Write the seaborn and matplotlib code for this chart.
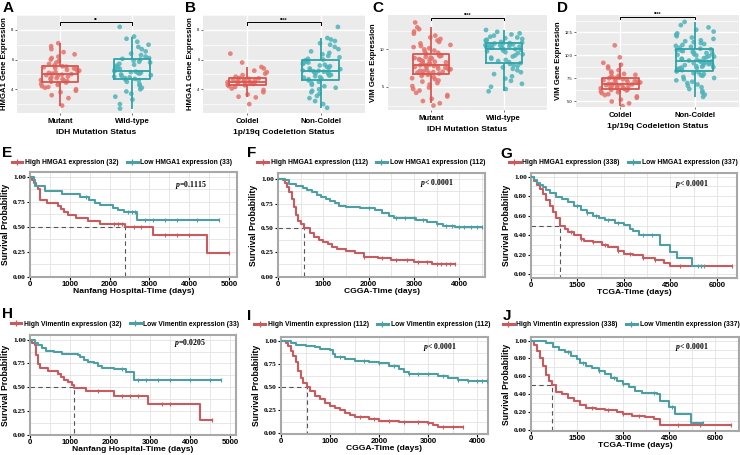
import numpy as np
import pandas as pd
import matplotlib
matplotlib.use("Agg")
import matplotlib.pyplot as plt
from matplotlib.lines import Line2D
from matplotlib.ticker import MultipleLocator, FormatStrFormatter
import seaborn as sns

# ---------------- box plot data (expression values) ----------------
groups_idh = ["Mutant", "Wild-type"]
groups_codel = ["Coldel", "Non-Coldel"]

hmga1_idh_mut = [2.9, 3.4, 3.6, 3.8, 3.9, 4.0, 4.1, 4.15, 4.2, 4.3, 4.35, 4.4,
                 4.45, 4.5, 4.55, 4.6, 4.62, 4.68, 4.7, 4.75, 4.8, 4.85, 4.9, 4.95, 4.98,
                 5.02, 5.05, 5.1, 5.15, 5.2, 5.25, 5.3, 5.35, 5.4, 5.42, 5.48, 5.52, 5.55,
                 5.6, 5.7, 5.8, 5.9, 6.0, 6.1, 6.2, 6.35, 6.5, 6.7, 6.9, 7.1]
hmga1_idh_wt = [2.7, 3.0, 3.3, 3.5, 3.7, 3.85, 4.0, 4.1, 4.25, 4.35, 4.5, 4.6,
                4.65, 4.7, 4.75, 4.8, 4.85, 4.9, 4.95, 5.0, 5.05, 5.1, 5.12, 5.15, 5.18,
                5.22, 5.3, 5.38, 5.45, 5.5, 5.6, 5.65, 5.72, 5.8, 5.85, 5.92, 6.0, 6.05,
                6.1, 6.2, 6.3, 6.4, 6.55, 6.7, 6.85, 7.0, 7.2, 7.4, 7.55, 8.2]
hmga1_codel = [3.0, 3.45, 3.5, 3.65, 3.8, 3.95, 4.05, 4.15, 4.22,
               4.27, 4.3, 4.33, 4.36, 4.4, 4.42, 4.45, 4.47, 4.49,
               4.51, 4.55, 4.58, 4.6, 4.63, 4.66, 4.7, 4.73, 4.76,
               4.85, 4.95, 5.05, 5.15, 5.25, 5.4, 5.5, 5.8, 6.4]
hmga1_noncodel = [2.75, 3.0, 3.2, 3.4, 3.55, 3.7, 3.8, 3.9, 4.0, 4.1, 4.2, 4.3, 4.4, 4.5, 4.6,
                  4.67, 4.72, 4.78, 4.82, 4.88, 4.92, 4.97, 5.0, 5.05, 5.08, 5.12, 5.15, 5.18, 5.21, 5.24,
                  5.27, 5.3, 5.35, 5.4, 5.45, 5.5, 5.55, 5.6, 5.65, 5.7, 5.75, 5.8, 5.85, 5.9, 5.94,
                  6.0, 6.05, 6.15, 6.25, 6.35, 6.45, 6.55, 6.7, 6.85, 7.0, 7.1, 7.25, 7.35, 7.45, 8.2]
vim_idh_mut = [2.5, 2.8, 3.1, 3.4, 3.7, 3.9, 4.2, 4.5, 4.7, 4.9, 5.1, 5.3, 5.5, 5.7, 5.85, 6.0, 6.15, 6.3, 6.45, 6.6,
               6.72, 6.78, 6.85, 6.9, 6.97, 7.02, 7.1, 7.15, 7.22, 7.28, 7.35, 7.42, 7.48, 7.55, 7.6, 7.67, 7.72, 7.78, 7.83, 7.88,
               7.93, 8.0, 8.07, 8.13, 8.2, 8.28, 8.35, 8.42, 8.5, 8.57, 8.63, 8.7, 8.78, 8.85, 8.92, 9.0, 9.08, 9.15, 9.22, 9.3,
               9.4, 9.55, 9.7, 9.85, 10.0, 10.15, 10.3, 10.45, 10.6, 10.8, 11.0, 11.2, 11.4, 11.6, 11.85, 12.1, 12.4, 12.7, 12.95, 13.6]
vim_idh_wt = [4.4, 4.7, 5.0, 5.4, 5.8, 6.1, 6.4, 6.7, 6.95, 7.2, 7.4, 7.6, 7.75, 7.9, 8.05,
              8.15, 8.3, 8.45, 8.6, 8.75, 8.9, 9.05, 9.2, 9.35, 9.5, 9.62, 9.75, 9.85, 9.95, 10.05,
              10.12, 10.18, 10.22, 10.27, 10.32, 10.37, 10.42, 10.47, 10.52, 10.57, 10.62, 10.67, 10.71, 10.75, 10.79,
              10.85, 10.92, 11.0, 11.1, 11.2, 11.3, 11.4, 11.5, 11.6, 11.7, 11.85, 12.0, 12.15, 12.35, 12.6]
vim_codel = [4.5, 4.8, 5.0, 5.2, 5.4, 5.55, 5.7, 5.8, 5.9, 6.0, 6.08, 6.15, 6.2, 6.26,
             6.32, 6.38, 6.43, 6.48, 6.53, 6.58, 6.63, 6.68, 6.73, 6.78, 6.82, 6.86, 6.9, 6.93,
             6.97, 7.02, 7.07, 7.12, 7.17, 7.22, 7.27, 7.32, 7.37, 7.42, 7.47, 7.52, 7.56, 7.59,
             7.65, 7.72, 7.8, 7.9, 8.0, 8.1, 8.25, 8.4, 8.6, 8.8, 9.0, 9.2, 9.8, 11.1]
vim_noncodel = [5.5, 5.75, 5.95, 6.15, 6.35, 6.55, 6.7, 6.85, 7.0, 7.15, 7.3, 7.42, 7.55, 7.67, 7.78, 7.88, 7.98, 8.08, 8.17, 8.26,
                8.34, 8.4, 8.46, 8.52, 8.58, 8.63, 8.68, 8.73, 8.78, 8.84, 8.9, 8.95, 9.0, 9.06, 9.12, 9.17, 9.22, 9.27, 9.31, 9.34,
                9.38, 9.45, 9.52, 9.58, 9.65, 9.72, 9.8, 9.87, 9.94, 10.0, 10.07, 10.14, 10.2, 10.27, 10.34, 10.4, 10.47, 10.54, 10.6, 10.67,
                10.75, 10.85, 10.95, 11.05, 11.15, 11.25, 11.35, 11.45, 11.55, 11.65, 11.8, 11.95, 12.1, 12.25, 12.4, 12.6, 12.8, 13.05, 13.3, 13.65]

# ---------------- Kaplan-Meier step curves (time, survival) ----------------
e_high_t = [0, 40, 90, 150, 200, 240, 260, 420, 700, 780, 860, 950, 1150, 1450, 1750, 2390, 3080, 4450, 5000]
e_high_s = [1.0, 0.97, 0.94, 0.91, 0.88, 0.80, 0.77, 0.74, 0.71, 0.68, 0.65, 0.62, 0.59, 0.56, 0.53, 0.50, 0.42, 0.24, 0.24]
e_low_t = [0, 100, 130, 380, 800, 1260, 1470, 1630, 1760, 2090, 2220, 2360, 2680, 4750]
e_low_s = [1.0, 0.97, 0.91, 0.86, 0.83, 0.80, 0.77, 0.74, 0.72, 0.69, 0.67, 0.65, 0.57, 0.57]
e_high_cens = [2100, 2200, 2300, 2600, 2800, 3400, 3700, 4000, 5000]
e_low_cens = [1400, 2450, 2550, 2650, 2900, 3100, 3400, 3700, 4200, 4750]

f_high_t = [0, 100, 150, 200, 250, 300, 350, 400, 450, 500, 580, 700, 800, 900, 1000, 1100, 1200, 1300,
            1500, 1700, 1900, 2200, 2500, 3000, 3400, 3900]
f_high_s = [1.0, 0.99, 0.96, 0.92, 0.87, 0.80, 0.72, 0.63, 0.57, 0.54, 0.50, 0.45, 0.41, 0.38, 0.36, 0.33,
            0.30, 0.28, 0.26, 0.24, 0.20, 0.19, 0.17, 0.15, 0.13, 0.13]
f_low_t = [0, 150, 250, 400, 550, 650, 750, 850, 950, 1050, 1150, 1250, 1350, 1500, 1800, 2150, 2300,
           2450, 2550, 3050, 3300, 3500, 3650, 3900, 4500]
f_low_s = [1.0, 0.99, 0.95, 0.93, 0.91, 0.89, 0.87, 0.84, 0.82, 0.80, 0.78, 0.76, 0.73, 0.72, 0.70, 0.68,
           0.65, 0.62, 0.60, 0.58, 0.56, 0.54, 0.52, 0.51, 0.51]
f_high_cens = [1900, 2300, 2600, 2850, 3100, 3300, 3500, 3600, 3700, 3800, 3900]
f_low_cens = [2000, 2600, 2800, 3000, 3200, 3500, 3700, 3850, 4000, 4100, 4250, 4400, 4500]

g_high_t = [0, 100, 200, 300, 400, 500, 600, 700, 800, 950, 1000, 1100, 1200, 1400, 1600, 1700, 2000,
            2300, 2500, 2800, 3000, 3300, 3600, 4000, 4300, 4500, 6500]
g_high_s = [1.0, 0.96, 0.92, 0.87, 0.82, 0.76, 0.70, 0.64, 0.58, 0.50, 0.49, 0.46, 0.43, 0.40, 0.36, 0.34,
            0.33, 0.30, 0.28, 0.24, 0.21, 0.20, 0.17, 0.15, 0.12, 0.08, 0.08]
g_low_t = [0, 100, 200, 300, 400, 500, 600, 800, 1000, 1200, 1400, 1600, 1800, 2000, 2200, 2400, 2700,
           3000, 3200, 3300, 3500, 4150, 4500, 4700, 5200, 5600]
g_low_s = [1.0, 0.97, 0.94, 0.92, 0.89, 0.86, 0.83, 0.79, 0.77, 0.74, 0.70, 0.66, 0.63, 0.60, 0.58, 0.56,
           0.53, 0.51, 0.46, 0.44, 0.40, 0.30, 0.23, 0.17, 0.08, 0.08]
g_high_cens = [1300, 1600, 2000, 2400, 2800, 3200, 3600, 4000, 4800, 5500, 6500]
g_low_cens = [1500, 1800, 2100, 2500, 2800, 3600, 3900, 5400, 5600]

h_high_t = [0, 60, 120, 160, 200, 260, 450, 700, 780, 850, 950, 1050, 1100, 1400, 2100, 2950, 4250, 4550]
h_high_s = [1.0, 0.97, 0.94, 0.84, 0.74, 0.70, 0.67, 0.64, 0.61, 0.58, 0.55, 0.52, 0.49, 0.46, 0.41, 0.32, 0.15, 0.15]
h_low_t = [0, 120, 200, 300, 400, 600, 800, 1200, 1250, 1350, 1450, 1600, 1700, 1800, 2100, 2400, 2600, 4780]
h_low_s = [1.0, 0.97, 0.94, 0.91, 0.88, 0.87, 0.85, 0.84, 0.82, 0.79, 0.77, 0.75, 0.72, 0.70, 0.69, 0.66, 0.57, 0.57]
h_high_cens = [1700, 2300, 2500, 2700, 3300, 3500, 4550]
h_low_cens = [2300, 2700, 2900, 3200, 3500, 4000, 4500, 4780]

i_high_t = [0, 100, 150, 200, 250, 300, 350, 400, 450, 530, 600, 700, 800, 900, 1000, 1100, 1200, 1300,
            1400, 1500, 1800, 2000, 2400, 3000, 3100, 3200, 3700]
i_high_s = [1.0, 0.98, 0.95, 0.90, 0.84, 0.77, 0.68, 0.60, 0.55, 0.50, 0.46, 0.40, 0.37, 0.33, 0.30, 0.28,
            0.25, 0.22, 0.20, 0.18, 0.15, 0.13, 0.12, 0.11, 0.09, 0.07, 0.07]
i_low_t = [0, 200, 300, 500, 700, 800, 1000, 1050, 1100, 1300, 1500, 1800, 2000, 2200, 2400, 2500, 2600,
           3000, 3200, 3400, 3600, 3800, 4216]
i_low_s = [1.0, 0.98, 0.96, 0.95, 0.94, 0.92, 0.91, 0.86, 0.83, 0.81, 0.79, 0.78, 0.76, 0.73, 0.70, 0.67,
           0.65, 0.64, 0.62, 0.60, 0.58, 0.57, 0.57]
i_high_cens = [1600, 1900, 2200, 2500, 2800, 3000, 3300, 3500, 3700]
i_low_cens = [1200, 1700, 2000, 2300, 2600, 2800, 3000, 3300, 3600, 3800, 4000, 4100, 4200]

j_high_t = [0, 100, 200, 300, 400, 500, 600, 680, 800, 1000, 1200, 1400, 1600, 1800, 2100, 2400, 2800,
            3000, 3300, 3700, 4000, 4200, 6500]
j_high_s = [1.0, 0.95, 0.88, 0.80, 0.72, 0.62, 0.55, 0.50, 0.43, 0.40, 0.36, 0.32, 0.28, 0.25, 0.24, 0.22,
            0.20, 0.18, 0.16, 0.15, 0.12, 0.06, 0.06]
j_low_t = [0, 300, 500, 700, 900, 1100, 1300, 1500, 1600, 1800, 2000, 2200, 2400, 2600, 2800, 3000, 3200,
           3400, 3600, 4100, 4200, 4500, 4700, 5200, 5600]
j_low_s = [1.0, 0.99, 0.97, 0.93, 0.90, 0.87, 0.83, 0.79, 0.75, 0.72, 0.69, 0.66, 0.63, 0.58, 0.55, 0.52,
           0.48, 0.44, 0.41, 0.40, 0.33, 0.26, 0.18, 0.08, 0.08]
j_high_cens = [2000, 2500, 3000, 3500, 4800, 5500, 6500]
j_low_cens = [1200, 1700, 2200, 2700, 3000, 4000, 4600, 5600]

# ---------------- styling ----------------
RED_PT, RED_BOX = "#E6716A", "#D8564F"
TEAL_PT, TEAL_BOX = "#4DB4B9", "#2FA3A9"
KM_RED, KM_TEAL = "#C95A5D", "#4E9FA4"
SANS = ["Liberation Sans", "DejaVu Sans"]
SERIF = ["Liberation Serif", "DejaVu Serif"]

plt.rcParams["font.family"] = SANS
plt.rcParams["mathtext.fontset"] = "custom"
plt.rcParams["mathtext.it"] = "Liberation Serif:italic:bold"
plt.rcParams["mathtext.rm"] = "Liberation Serif:bold"

W, H = 740, 455
fig = plt.figure(figsize=(W / 100, H / 100), dpi=100)


def rect(x0, y0, x1, y1):
    return [x0 / W, 1 - y1 / H, (x1 - x0) / W, (y1 - y0) / H]


def letter(x, y, s):
    fig.text(x / W, 1 - y / H, s, fontsize=11, fontweight="bold", va="baseline", ha="left")


def box_panel(r, groups, a, b, ylabel, xlabel, ylim, ymajor, fmt, bracket, stars):
    ax = fig.add_axes(rect(*r))
    df = pd.DataFrame({"group": [groups[0]] * len(a) + [groups[1]] * len(b), "value": a + b})
    np.random.seed(3)
    sns.stripplot(data=df, x="group", y="value", hue="group", palette=[RED_PT, TEAL_PT],
                  jitter=0.28, size=3.4, alpha=0.85, linewidth=0, legend=False, ax=ax, zorder=2)
    sns.boxplot(data=df, x="group", y="value", hue="group", palette=[RED_BOX, TEAL_BOX],
                fill=False, width=0.5, showfliers=False, showcaps=False, linewidth=1.3,
                legend=False, ax=ax, zorder=3)
    ax.set_facecolor("#EBEBEB")
    for s in ax.spines.values():
        s.set_visible(False)
    ax.set_xlim(-0.6, 1.6)
    ax.set_ylim(*ylim)
    ax.yaxis.set_major_locator(MultipleLocator(ymajor))
    ax.yaxis.set_minor_locator(MultipleLocator(ymajor / 2))
    ax.yaxis.set_major_formatter(FormatStrFormatter(fmt))
    ax.set_axisbelow(True)
    ax.grid(True, which="major", color="white", lw=1.0)
    ax.grid(True, which="minor", axis="y", color="white", lw=0.5)
    ax.tick_params(axis="y", which="major", labelsize=3, length=1.5, width=0.5, color="#333333", pad=1)
    ax.tick_params(axis="y", which="minor", length=0)
    ax.tick_params(axis="x", labelsize=5.6, length=1.5, width=0.5, color="#333333", pad=2)
    for t in ax.get_xticklabels():
        t.set_fontweight("bold")
    ax.set_xlabel(xlabel, fontsize=6, fontweight="bold", labelpad=3)
    ax.set_ylabel(ylabel, fontsize=5.6, fontweight="bold", labelpad=2)
    y0, d = bracket
    ax.plot([0, 0, 1, 1], [y0 - d, y0, y0, y0 - d], color="black", lw=0.7, clip_on=False, zorder=4)
    ax.text(0.5, y0, stars, ha="center", va="bottom", fontsize=3.5, fontweight="bold")
    return ax


def step_value(times, surv, t):
    idx = np.searchsorted(np.asarray(times), np.asarray(t), side="right") - 1
    return np.asarray(surv)[idx]


def km_panel(r, curves, labels, xlim, xmajor, ylim, ymajor, xlabel, ptext, pxy, median, legend_xy):
    ax = fig.add_axes(rect(*r))
    for (t, s, cens, col) in curves:
        sns.lineplot(x=t, y=s, drawstyle="steps-post", color=col, lw=1.5, estimator=None,
                     sort=False, ax=ax, zorder=3)
        ax.plot(cens, step_value(t, s, cens), ls="none", marker="|", ms=3.2, mew=0.8,
                color=col, zorder=3)
    ax.plot([xlim[0], median, median], [0.5, 0.5, ylim[0]], color="#555555", lw=0.8,
            ls=(0, (4, 3)), zorder=2)
    ax.set_xlim(*xlim)
    ax.set_ylim(*ylim)
    ax.xaxis.set_major_locator(MultipleLocator(xmajor))
    ax.xaxis.set_minor_locator(MultipleLocator(xmajor / 2))
    ax.yaxis.set_major_locator(MultipleLocator(ymajor))
    ax.yaxis.set_minor_locator(MultipleLocator(ymajor / 2))
    ax.yaxis.set_major_formatter(FormatStrFormatter("%.2f"))
    ax.set_axisbelow(True)
    ax.grid(True, which="both", color="#E3E3E3", lw=0.6)
    for sp in ax.spines.values():
        sp.set_color("#A8A8A8")
        sp.set_linewidth(1.5)
    ax.tick_params(which="minor", length=0)
    ax.tick_params(axis="both", which="major", length=2, width=0.8, color="black", pad=1)
    ax.tick_params(axis="x", labelsize=5.6)
    ax.tick_params(axis="y", labelsize=5.3)
    for tl in ax.get_xticklabels():
        tl.set_fontweight("bold")
    for tl in ax.get_yticklabels():
        tl.set_family(SERIF)
        tl.set_fontweight("bold")
    ax.set_xlabel(xlabel, fontsize=6.1, fontweight="bold", labelpad=0)
    ax.set_ylabel("Survival Probability", fontsize=6.2, fontweight="bold", labelpad=2)
    ax.text(pxy[0], pxy[1], ptext, transform=ax.transAxes, fontsize=5.6, family=SERIF,
            fontweight="bold", ha="left", va="center")
    handles = [Line2D([0], [0], color=c[3], lw=2.2, marker="+", ms=4, mew=0.9) for c in curves]
    fig.legend(handles, labels, loc="center", bbox_to_anchor=(legend_xy[0] / W, 1 - legend_xy[1] / H),
               ncol=2, frameon=False, handlelength=1.6, handletextpad=0.4, columnspacing=1.2,
               prop={"size": 4.9, "weight": "bold", "family": SANS}, borderaxespad=0, borderpad=0)
    return ax


# ---------------- top row: box plots ----------------
box_panel((17, 15, 175, 113), groups_idh, hmga1_idh_mut, hmga1_idh_wt,
          "HMGA1 Gene Expression", "IDH Mutation Status", (2.4, 9.0), 2, "%d", (8.5, 0.15), "**")
box_panel((203, 15, 365, 113), groups_codel, hmga1_codel, hmga1_noncodel,
          "HMGA1 Gene Expression", "1p/19q Codeletion Status", (2.4, 9.0), 2, "%d", (8.5, 0.15), "****")
box_panel((388, 15, 547, 110), groups_idh, vim_idh_mut, vim_idh_wt,
          "VIM Gene Expression", "IDH Mutation Status", (1.9, 14.6), 5, "%d", (14.2, 0.3), "****")
box_panel((576, 15, 739, 107), groups_codel, vim_codel, vim_noncodel,
          "VIM Gene Expression", "1p/19q Codeletion Status", (4.4, 14.4), 2.5, "%.1f", (14.2, 0.25), "****")
letter(3, 12, "A")
letter(185, 12, "B")
letter(372, 12, "C")
letter(557, 12, "D")

# ---------------- KM curves ----------------
km_panel((30, 172, 237, 277),
         [(e_high_t, e_high_s, e_high_cens, KM_RED), (e_low_t, e_low_s, e_low_cens, KM_TEAL)],
         ["High HMGA1 expression (32)", "Low HMGA1 expression (33)"],
         (0, 5200), 1000, (-0.005, 1.05), 0.25, "Nanfang Hospital-Time (days)",
         "$p$=0.1115", (0.70, 0.88), 2390, (122, 163))
km_panel((278, 173, 485, 277),
         [(f_high_t, f_high_s, f_high_cens, KM_RED), (f_low_t, f_low_s, f_low_cens, KM_TEAL)],
         ["High HMGA1 expression (112)", "Low HMGA1 expression (112)"],
         (0, 4570), 1000, (-0.005, 1.065), 0.25, "CGGA-Time (days)",
         "$p$< 0.0001", (0.685, 0.90), 580, (371, 163))
km_panel((531, 173, 737, 278),
         [(g_high_t, g_high_s, g_high_cens, KM_RED), (g_low_t, g_low_s, g_low_cens, KM_TEAL)],
         ["High HMGA1 expression (338)", "Low HMGA1 expression (337)"],
         (0, 6650), 1500, (-0.038, 1.038), 0.2, "TCGA-Time (days)",
         "$p$< 0.0001", (0.70, 0.90), 950, (623, 163))
km_panel((30, 335, 236, 435),
         [(h_high_t, h_high_s, h_high_cens, KM_RED), (h_low_t, h_low_s, h_low_cens, KM_TEAL)],
         ["High Vimentin expression (32)", "Low Vimentin expression (33)"],
         (0, 5150), 1000, (-0.005, 1.05), 0.25, "Nanfang Hospital-Time (days)",
         "$p$=0.0205", (0.70, 0.92), 1100, (125, 324))
km_panel((281, 337, 488, 434),
         [(i_high_t, i_high_s, i_high_cens, KM_RED), (i_low_t, i_low_s, i_low_cens, KM_TEAL)],
         ["High Vimentin expression (112)", "Low Vimentin expression (112)"],
         (0, 4216), 1000, (-0.008, 1.047), 0.25, "CGGA-Time (days)",
         "$p$< 0.0001", (0.685, 0.90), 530, (372, 325))
km_panel((531, 337, 739, 431),
         [(j_high_t, j_high_s, j_high_cens, KM_RED), (j_low_t, j_low_s, j_low_cens, KM_TEAL)],
         ["High Vimentin expression (338)", "Low Vimentin expression (337)"],
         (0, 6770), 1500, (-0.01, 1.04), 0.2, "TCGA-Time (days)",
         "$p$< 0.0001", (0.69, 0.89), 680, (621, 325))
letter(2, 157, "E")
letter(247, 157, "F")
letter(500, 158, "G")
letter(2, 318, "H")
letter(247, 320, "I")
letter(503, 320, "J")

fig.savefig("out.png", dpi=100)
